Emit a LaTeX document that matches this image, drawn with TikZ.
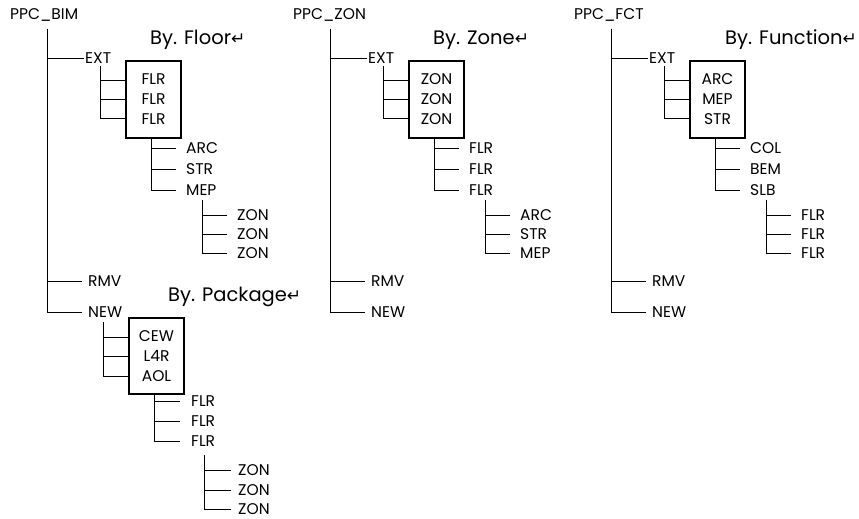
\documentclass[tikz,border=0pt]{standalone}
\usepackage{fontspec}
\setmainfont{Poppins}
\newfontfamily\arrowfont{DejaVu Sans}
\newcommand\labelfont{\fontsize{15.5}{20}\selectfont}
\newcommand\titlefont{\fontsize{19.5}{22}\selectfont}
\newcommand\retarrow{{\arrowfont\fontsize{17}{17}\selectfont ↵}}
\tikzset{
  lbl/.style={font=\labelfont, inner sep=0pt, anchor=west},
  ttl/.style={font=\titlefont, inner sep=0pt, anchor=west},
  grp/.style={draw, line width=2.2pt, minimum width=55pt, minimum height=77pt,
              align=center, font=\labelfont, inner sep=0pt},
  conn/.style={line width=0.9pt}
}
% #1 suffix, #2 root, #3 box text, #4-#6 mid leaves, #7-#9 sub leaves
\newcommand\mytree[9]{%
  \node[lbl] (root#1) at (10,15) {#2};
  \coordinate (tr#1) at (47,29);
  \node[lbl] (ext#1) at (85,58) {EXT};
  \draw[conn] (tr#1) |- ([xshift=-1pt]ext#1.west);
  \node[grp] (box#1) at (153.5,99.5) {#3};
  \coordinate (ej#1) at (100,66);
  \draw[conn] (ej#1) |- ([yshift=19pt]box#1.west);
  \draw[conn] (ej#1) |- (box#1.west);
  \draw[conn] (ej#1) |- ([yshift=-19pt]box#1.west);
  \node[lbl] (a#1) at (186,148) {#4};
  \node[lbl] (b#1) at (186,169) {#5};
  \node[lbl] (c#1) at (186,190) {#6};
  \draw[conn] ([xshift=-2.5pt]box#1.south) |- ([xshift=-10pt]a#1.west);
  \draw[conn] ([xshift=-2.5pt]box#1.south) |- ([xshift=-10pt]b#1.west);
  \draw[conn] ([xshift=-2.5pt]box#1.south) |- ([xshift=-10pt]c#1.west);
  \coordinate (sj#1) at (202,200);
  \node[lbl] (d#1) at (237,215) {#7};
  \node[lbl] (e#1) at (237,234) {#8};
  \node[lbl] (f#1) at (237,253) {#9};
  \draw[conn] (sj#1) |- ([xshift=-10pt]d#1.west);
  \draw[conn] (sj#1) |- ([xshift=-10pt]e#1.west);
  \draw[conn] (sj#1) |- ([xshift=-10pt]f#1.west);
  \node[lbl] (rmv#1) at (88,281) {RMV};
  \node[lbl] (new#1) at (88,312) {NEW};
  \draw[conn] (tr#1) |- ([xshift=-6pt]rmv#1.west);
  \draw[conn] (tr#1) |- ([xshift=-6pt]new#1.west);
}
\begin{document}
\begin{tikzpicture}[x=1pt,y=-1pt]
  \useasboundingbox (0,0) rectangle (859,519);
  \mytree{A}{PPC\_BIM}{FLR\\FLR\\FLR}{ARC}{STR}{MEP}{ZON}{ZON}{ZON}
  \begin{scope}[xshift=283pt]
    \mytree{B}{PPC\_ZON}{ZON\\ZON\\ZON}{FLR}{FLR}{FLR}{ARC}{STR}{MEP}
  \end{scope}
  \begin{scope}[xshift=564pt]
    \mytree{C}{PPC\_FCT}{ARC\\MEP\\STR}{COL}{BEM}{SLB}{FLR}{FLR}{FLR}
  \end{scope}
  \node[ttl] (tA) at (150,40) {By. Floor\retarrow};
  \node[ttl] (tB) at (433,40) {By. Zone\retarrow};
  \node[ttl] (tC) at (725,40) {By. Function\retarrow};
  \node[ttl] (tP) at (168,297) {By. Package\retarrow};
  % package branch
  \node[grp, minimum height=76pt] (boxP) at (156.5,356) {CEW\\L4R\\AOL};
  \coordinate (nj) at (103,322);
  \draw[conn] (nj) |- ([yshift=19pt]boxP.west);
  \draw[conn] (nj) |- (boxP.west);
  \draw[conn] (nj) |- ([yshift=-20pt]boxP.west);
  \node[lbl] (pa) at (191,401) {FLR};
  \node[lbl] (pb) at (191,421) {FLR};
  \node[lbl] (pc) at (191,441) {FLR};
  \draw[conn] ([xshift=-2.5pt]boxP.south) |- ([xshift=-11pt]pa.west);
  \draw[conn] ([xshift=-2.5pt]boxP.south) |- ([xshift=-11pt]pb.west);
  \draw[conn] ([xshift=-2.5pt]boxP.south) |- ([xshift=-11pt]pc.west);
  \coordinate (pj) at (204,455);
  \node[lbl] (pd) at (238,470) {ZON};
  \node[lbl] (pe) at (238,490) {ZON};
  \node[lbl] (pf) at (238,509) {ZON};
  \draw[conn] (pj) |- ([xshift=-7pt]pd.west);
  \draw[conn] (pj) |- ([xshift=-7pt]pe.west);
  \draw[conn] (pj) |- ([xshift=-7pt]pf.west);
\end{tikzpicture}
\end{document}
